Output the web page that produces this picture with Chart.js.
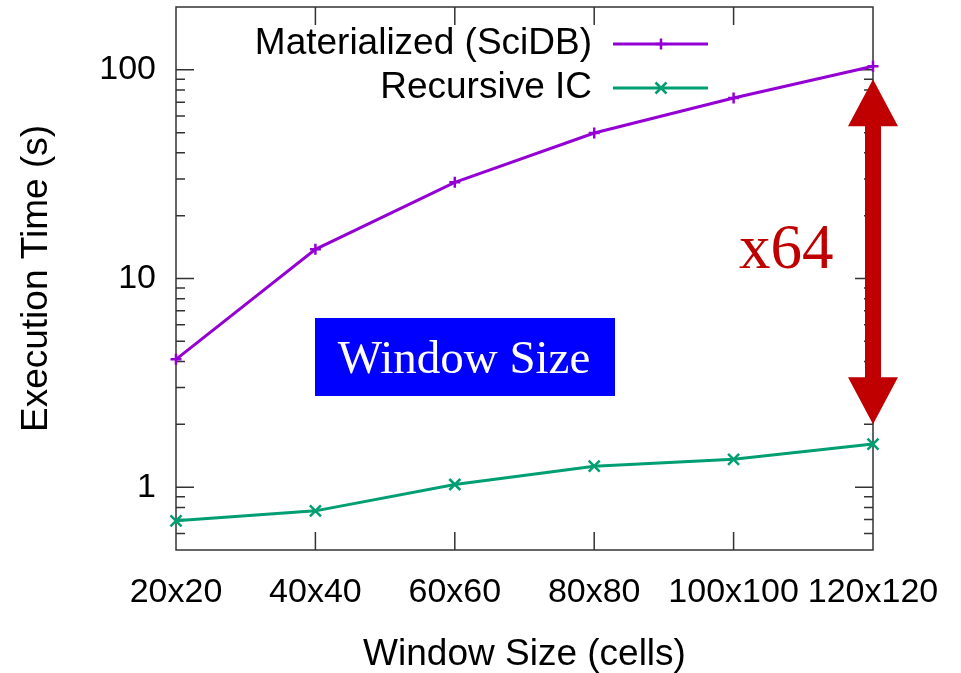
<!DOCTYPE html>
<html lang="en">
  <head>
    <meta charset="utf-8" />
    <title>Execution time by window size</title>
    <style>
      * {
        margin: 0;
        padding: 0;
      }
      body {
        background: #ffffff;
      }
    </style>
  </head>
  <body>
    <canvas id="myChart" width="961" height="673"></canvas>

    <script src="https://cdn.jsdelivr.net/npm/chart.js"></script>

    <script>
      // data block
      const windowSizes = ["20x20", "40x40", "60x60", "80x80", "100x100", "120x120"];
      const materialized = [4.1, 13.8, 28.9, 49.8, 73.3, 104];
      const recursiveIC = [0.69, 0.77, 1.03, 1.26, 1.36, 1.61];
      const yTickValues = [1, 10, 100];
      const yMin = 0.5;
      const yMax = 200;
      // arrow annotation spans from ~90 s down to ~2 s at the last window size
      const arrowFrom = 90;
      const arrowTo = 2;
      const ratioText = "x64";
      const boxText = "Window Size";

      const sans = "'Liberation Sans', Arial, sans-serif";
      const serif = "'Liberation Serif', 'Times New Roman', serif";
      const frameColor = "#333333";

      // small helper for gnuplot style markers
      function drawMarker(ctx, style, x, y, r) {
        ctx.beginPath();
        if (style === "cross") {
          ctx.moveTo(x - r, y);
          ctx.lineTo(x + r, y);
          ctx.moveTo(x, y - r);
          ctx.lineTo(x, y + r);
        } else {
          ctx.moveTo(x - r, y - r);
          ctx.lineTo(x + r, y + r);
          ctx.moveTo(x - r, y + r);
          ctx.lineTo(x + r, y - r);
        }
        ctx.stroke();
      }

      // frame + inward ticks, like gnuplot's border
      const frameTicks = {
        id: "frameTicks",
        beforeDatasetsDraw(chart) {
          const { ctx, chartArea: { top, bottom, left, right }, scales: { x, y } } = chart;
          ctx.save();
          ctx.strokeStyle = frameColor;
          ctx.lineWidth = 1.5;
          ctx.strokeRect(left, top, right - left, bottom - top);

          // y ticks, major + minor
          for (let e = -1; e <= 2; e++) {
            for (let m = 1; m <= 9; m++) {
              const v = m * Math.pow(10, e);
              if (v <= yMin || v >= yMax) continue;
              const py = y.getPixelForValue(v);
              const len = m === 1 ? 18 : 9;
              ctx.beginPath();
              ctx.moveTo(left, py);
              ctx.lineTo(left + len, py);
              ctx.moveTo(right, py);
              ctx.lineTo(right - len, py);
              ctx.stroke();
            }
          }
          // x ticks top and bottom
          for (let i = 1; i < windowSizes.length - 1; i++) {
            const px = x.getPixelForValue(i);
            ctx.beginPath();
            ctx.moveTo(px, bottom);
            ctx.lineTo(px, bottom - 18);
            ctx.moveTo(px, top);
            ctx.lineTo(px, top + 18);
            ctx.stroke();
          }
          ctx.restore();
        },
      };

      // point markers, legend and annotations
      const overlay = {
        id: "overlay",
        afterDraw(chart) {
          const { ctx, chartArea: { top, left }, scales: { x, y } } = chart;
          ctx.save();

          // markers on the data points
          chart.data.datasets.forEach((ds, i) => {
            const meta = chart.getDatasetMeta(i);
            ctx.strokeStyle = ds.borderColor;
            ctx.lineWidth = 2.5;
            meta.data.forEach((pt) => drawMarker(ctx, ds.marker, pt.x, pt.y, 5.5));
          });

          // legend
          ctx.font = `37px ${sans}`;
          ctx.textAlign = "right";
          ctx.textBaseline = "middle";
          chart.data.datasets.forEach((ds, i) => {
            const ly = top + 37 + i * 44;
            ctx.fillStyle = "#000000";
            ctx.fillText(ds.label, 592, ly);
            ctx.strokeStyle = ds.borderColor;
            ctx.lineWidth = 3;
            ctx.beginPath();
            ctx.moveTo(613, ly);
            ctx.lineTo(708, ly);
            ctx.stroke();
            ctx.lineWidth = 2.5;
            drawMarker(ctx, ds.marker, 661, ly, 5.5);
          });

          // blue label box
          ctx.fillStyle = "#0000ff";
          ctx.fillRect(315, 318, 300, 78);
          ctx.fillStyle = "#ffffff";
          ctx.font = `47px ${serif}`;
          ctx.textAlign = "center";
          ctx.textBaseline = "alphabetic";
          ctx.fillText(boxText, 464, 373);

          // red double arrow
          const ax = x.getPixelForValue(windowSizes.length - 1);
          const y1 = y.getPixelForValue(arrowFrom);
          const y2 = y.getPixelForValue(arrowTo);
          const headW = 25;
          const headH = 47;
          const shaft = 8;
          ctx.fillStyle = "#c00000";
          ctx.beginPath();
          ctx.moveTo(ax, y1);
          ctx.lineTo(ax + headW, y1 + headH);
          ctx.lineTo(ax + shaft, y1 + headH);
          ctx.lineTo(ax + shaft, y2 - headH);
          ctx.lineTo(ax + headW, y2 - headH);
          ctx.lineTo(ax, y2);
          ctx.lineTo(ax - headW, y2 - headH);
          ctx.lineTo(ax - shaft, y2 - headH);
          ctx.lineTo(ax - shaft, y1 + headH);
          ctx.lineTo(ax - headW, y1 + headH);
          ctx.closePath();
          ctx.fill();

          ctx.font = `63px ${serif}`;
          ctx.textAlign = "left";
          ctx.fillText(ratioText, 739, 268);

          ctx.restore();
        },
      };

      const data = {
        labels: windowSizes,
        datasets: [
          {
            label: "Materialized (SciDB)",
            data: materialized,
            borderColor: "#9400d3",
            backgroundColor: "#9400d3",
            borderWidth: 3,
            pointRadius: 0,
            marker: "cross",
            clip: false,
          },
          {
            label: "Recursive IC",
            data: recursiveIC,
            borderColor: "#009e73",
            backgroundColor: "#009e73",
            borderWidth: 3,
            pointRadius: 0,
            marker: "crossRot",
            clip: false,
          },
        ],
      };

      const config = {
        type: "line",
        data: data,
        options: {
          responsive: false,
          animation: false,
          layout: {
            padding: { top: 7, right: 88, bottom: 0, left: 0 },
          },
          plugins: {
            legend: { display: false },
            tooltip: { enabled: false },
          },
          scales: {
            x: {
              type: "category",
              offset: false,
              grid: { display: false, drawTicks: false },
              border: { display: false },
              ticks: {
                color: "#000000",
                font: { family: sans, size: 34 },
                padding: 22,
                maxRotation: 0,
                autoSkip: false,
              },
              title: {
                display: true,
                text: "Window Size (cells)",
                color: "#000000",
                font: { family: sans, size: 37, lineHeight: 1 },
                padding: { top: 0, bottom: 0 },
              },
              afterFit(scale) {
                scale.height = 123;
              },
            },
            y: {
              type: "logarithmic",
              min: yMin,
              max: yMax,
              grid: { display: false, drawTicks: false },
              border: { display: false },
              afterBuildTicks(scale) {
                scale.ticks = yTickValues.map((v) => ({ value: v }));
              },
              ticks: {
                color: "#000000",
                font: { family: sans, size: 34 },
                padding: 20,
                callback: (v) => String(v),
              },
              title: {
                display: true,
                text: "Execution Time (s)",
                color: "#000000",
                font: { family: sans, size: 37, lineHeight: 1 },
                padding: { top: 18, bottom: 0 },
              },
              afterFit(scale) {
                scale.width = 176;
                scale.paddingTop = 0;
                scale.paddingBottom = 0;
              },
            },
          },
        },
        plugins: [frameTicks, overlay],
      };

      const myChart = new Chart(document.getElementById("myChart"), config);
    </script>
  </body>
</html>
